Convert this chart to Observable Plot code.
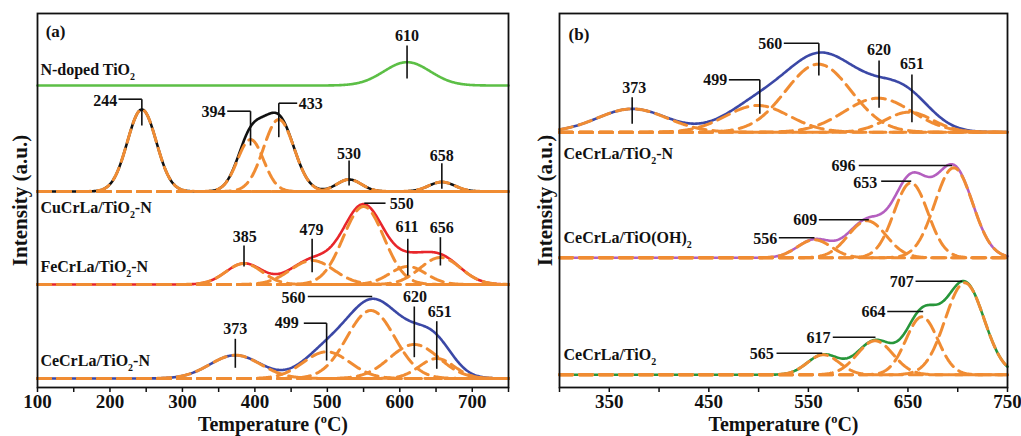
<!DOCTYPE html>
<html><head><meta charset="utf-8">
<script src="https://cdn.jsdelivr.net/npm/d3@7"></script>
<script src="https://cdn.jsdelivr.net/npm/@observablehq/plot@0.6"></script>
<style>
html,body{margin:0;padding:0;background:#fff;}
#wrap{position:relative;width:1021px;height:436px;overflow:hidden;}
#pa{position:absolute;left:0;top:0;}
#pb{position:absolute;left:515px;top:0;}
svg text{font-family:'Liberation Serif','Times New Roman',serif;}
</style></head>
<body><div id="wrap"><div id="pa"></div><div id="pb"></div></div>
<script>
// ---------------- Panel (a) data ----------------
const samplesA = ["N-doped TiO_2", "CuCrLa/TiO_2-N", "FeCrLa/TiO_2-N", "CeCrLa/TiO_2-N"];
const offsetsA = [302, 196, 103, 9];
const centresA = [[610], [244, 394, 433, 530, 658], [385, 479, 550, 611, 656], [373, 499, 560, 620, 651]];
const heightsA = [[23.3], [82, 52, 72, 12, 9.5], [21, 24, 78, 18, 27], [23.3, 26.7, 68, 34, 20]];
const sigmasA  = [[32], [20, 18, 21, 17, 18], [25, 30, 28, 25, 28], [35, 32, 33, 34, 24]];
const fittedA  = [false, true, true, true];
const sampleLabelAtA = [[104, 318], [104, 180], [104, 121], [104, 27]];
const peakLabelsA = [
  ["610", 610, 352, "middle"], ["244", 210, 286.5, "end"], ["394", 359.4, 275.5, "end"],
  ["433", 460.5, 284, "start"], ["530", 530, 233.7, "middle"], ["658", 658, 232, "middle"],
  ["550", 586, 184, "start"], ["385", 386, 150.3, "middle"], ["479", 478, 157.7, "middle"],
  ["611", 610, 160.3, "middle"], ["656", 658, 159.7, "middle"], ["560", 469.8, 90, "end"],
  ["499", 460.6, 64.3, "end"], ["620", 621, 90.3, "middle"], ["651", 655, 75.3, "middle"],
  ["373", 373, 58.7, "middle"]
];
const leadersA = [
  [610, 342, 610, 309],
  [211.8, 288.3, 244, 288.3], [244, 288.3, 244, 262],
  [361.8, 276.3, 394, 276.3], [394, 276.3, 394, 242],
  [433, 284.3, 458.4, 284.3], [433, 284.3, 433, 250.3],
  [530, 227, 530, 202], [658, 224.3, 658, 198.7],
  [551, 184.3, 580.3, 184.3],
  [385, 142, 385, 121], [479, 148.7, 479, 115.3], [611, 148.7, 611, 112], [656, 150.3, 656, 122],
  [473, 91, 561.9, 91],
  [467.5, 64.3, 499, 64.3], [499, 64.3, 499, 27],
  [620, 81, 620, 30.3], [651, 66.3, 651, 18.7], [373, 48.7, 373, 19.7]
];
const coloursA = ["#5cbf46", "#111111", "#e8262b", "#3b48a6"];

// ---------------- Panel (b) data ----------------
const samplesB = ["CeCrLa/TiO_2-N", "CeCrLa/TiO(OH)_2", "CeCrLa/TiO_2"];
const offsetsB = [255.3, 129.7, 12.7];
const centresB = [[373, 499, 560, 620, 651], [556, 609, 653, 696], [565, 617, 664, 707]];
const heightsB = [[23.3, 26.7, 68, 34, 20], [18, 37, 75, 90], [20, 34, 58, 92]];
const sigmasB  = [[35, 32, 33, 34, 24], [17, 19, 17, 19], [16, 18, 16, 19.5]];
const fittedB  = [true, true, true];
const sampleLabelAtB = [[304, 234], [304, 150], [304, 33]];
const peakLabelsB = [
  ["373", 375, 299.7, "middle"], ["499", 468.4, 307.7, "end"], ["560", 523.7, 343.7, "end"],
  ["620", 621, 337.7, "middle"], ["651", 654, 323.7, "middle"], ["696", 597.3, 222, "end"],
  ["653", 619.1, 205, "end"], ["609", 558.8, 167.5, "end"], ["556", 518.7, 149, "end"],
  ["707", 655.9, 105.5, "end"], ["664", 627.5, 75.5, "end"], ["617", 572.2, 49.5, "end"],
  ["565", 515.3, 34, "end"]
];
const leadersB = [
  [373, 290.3, 373, 263.7],
  [470.1, 307.7, 501.2, 307.7], [501.2, 307.7, 501.2, 273.7],
  [525.3, 344.3, 560.5, 344.3], [560.5, 344.3, 560.5, 312],
  [621, 327, 621, 279.7], [654, 313, 654, 265.3],
  [600.6, 222, 694.4, 222], [623.1, 206.3, 653.3, 206.3],
  [560.5, 167.7, 610.7, 167.7], [520.3, 149.7, 556.1, 149.7],
  [657.6, 106.3, 704.5, 106.3], [629.2, 76, 665.3, 76],
  [574.5, 50.3, 617.4, 50.3], [518, 34.3, 563.9, 34.3]
];
const coloursB = ["#3b48a6", "#b45fbf", "#27963a"];

const xTicksA = d3.range(100, 751, 50);
const xTicksB = d3.range(300, 751, 50);

// ---------------- helpers ----------------
const FONT = "'Liberation Serif','Times New Roman',serif";
const ORANGE = "#f08c33";
const gauss = (t, c, h, s) => h * Math.exp(-((t - c) ** 2) / (2 * s * s));

function build(samples, offsets, centres, heights, sigmas, fitted, domain) {
  const Ts = d3.range(domain[0], domain[1] + 0.01, 1);
  const sums = [], comps = [];
  samples.forEach((s, i) => {
    sums.push(Ts.map(T => ({T, v: offsets[i] + d3.sum(centres[i], (c, k) => gauss(T, c, heights[i][k], sigmas[i][k]))})));
    if (fitted[i]) centres[i].forEach((c, k) => {
      Ts.forEach(T => comps.push({T, v: offsets[i] + gauss(T, c, heights[i][k], sigmas[i][k]), id: i + "-" + k}));
    });
  });
  return {sums, comps};
}

function panel(cfg) {
  const {sums, comps} = build(cfg.samples, cfg.offsets, cfg.centres, cfg.heights, cfg.sigmas, cfg.fitted, cfg.domain);
  const txt = {fontFamily: FONT, fontWeight: "bold", fill: "#111"};
  const marks = [];
  sums.forEach((rows, i) => marks.push(Plot.line(rows, {x: "T", y: "v", stroke: cfg.colours[i], strokeWidth: 2.6})));
  marks.push(Plot.line(comps, {x: "T", y: "v", z: "id", stroke: ORANGE, strokeWidth: 3, strokeDasharray: "13,7"}));
  marks.push(Plot.link(cfg.leaders, {x1: d => d[0], y1: d => d[1], x2: d => d[2], y2: d => d[3], stroke: "#111", strokeWidth: 1.6}));
  for (const a of ["start", "middle", "end"]) {
    marks.push(Plot.text(cfg.peakLabels.filter(d => d[3] === a), {x: d => d[1], y: d => d[2], text: d => d[0], textAnchor: a, lineAnchor: "middle", fontSize: 16, ...txt}));
  }
  marks.push(Plot.text(cfg.samples.map((s, i) => ({s, T: cfg.labelAt[i][0], v: cfg.labelAt[i][1]})),
    {x: "T", y: "v", text: "s", textAnchor: "start", lineAnchor: "middle", fontSize: 16, ...txt}));
  marks.push(Plot.text([cfg.tag], {x: cfg.tagAt[0], y: cfg.tagAt[1], text: d => d, lineAnchor: "middle", fontSize: 17, ...txt}));
  marks.push(Plot.frame({stroke: "#111", strokeWidth: 1.8}));
  marks.push(Plot.axisX({ticks: cfg.ticks, tickFormat: cfg.tickFormat, tickSize: 5, tickPadding: 2, fontSize: 19, fontWeight: "bold", fontFamily: FONT, strokeWidth: 1.5}));
  marks.push(Plot.text(["Temperature (^oC)"], {frameAnchor: "bottom", dy: 37, text: d => d, textAnchor: "middle", lineAnchor: "middle", fontSize: 20, ...txt}));
  marks.push(Plot.text(["Intensity (a.u.)"], {frameAnchor: "left", dx: cfg.ylabelDx, rotate: -90, text: d => d, textAnchor: "middle", lineAnchor: "middle", fontSize: 21, ...txt}));
  return Plot.plot({
    width: cfg.width, height: 436,
    marginLeft: cfg.marginLeft, marginRight: cfg.marginRight, marginTop: 13, marginBottom: 49,
    x: {domain: cfg.domain, label: null},
    y: {domain: [0, 374], axis: null},
    style: {fontFamily: FONT, fontWeight: "bold", background: "white", overflow: "visible", color: "#111"},
    marks
  });
}

function richify(svg) {
  const NS = "http://www.w3.org/2000/svg";
  svg.querySelectorAll("text").forEach(el => {
    const s = el.textContent;
    if (!/[_^]/.test(s)) return;
    const fs = parseFloat(getComputedStyle(el).fontSize) || 16;
    while (el.firstChild) el.removeChild(el.firstChild);
    let shift = 0, buf = "", i = 0;
    const flush = () => {
      if (!buf) return;
      const t = document.createElementNS(NS, "tspan");
      if (shift) { t.setAttribute("dy", -shift); shift = 0; }
      t.textContent = buf; el.appendChild(t); buf = "";
    };
    while (i < s.length) {
      const ch = s[i];
      if ((ch === "_" || ch === "^") && i + 1 < s.length) {
        flush();
        const t = document.createElementNS(NS, "tspan");
        const d = ch === "_" ? 0.32 * fs : -0.42 * fs;
        t.setAttribute("dy", d - shift); shift = d;
        t.setAttribute("font-size", (0.62 * fs) + "px");
        t.textContent = s[i + 1]; el.appendChild(t); i += 2;
      } else { buf += ch; i++; }
    }
    flush();
  });
}

const svgA = panel({
  samples: samplesA, offsets: offsetsA, centres: centresA, heights: heightsA, sigmas: sigmasA, fitted: fittedA,
  colours: coloursA, leaders: leadersA, peakLabels: peakLabelsA, labelAt: sampleLabelAtA,
  domain: [100, 750], ticks: xTicksA, tickFormat: d => (d % 100 === 0 && d < 750) ? String(d) : "",
  tag: "(a)", tagAt: [125, 356], width: 515, marginLeft: 37, marginRight: 7, ylabelDx: -17
});
const svgB = panel({
  samples: samplesB, offsets: offsetsB, centres: centresB, heights: heightsB, sigmas: sigmasB, fitted: fittedB,
  colours: coloursB, leaders: leadersB, peakLabels: peakLabelsB, labelAt: sampleLabelAtB,
  domain: [300, 750], ticks: xTicksB, tickFormat: d => (d % 100 === 50) ? String(d) : "",
  tag: "(b)", tagAt: [319.6, 353], width: 506, marginLeft: 44, marginRight: 14, ylabelDx: -14.5
});
document.getElementById("pa").append(svgA);
document.getElementById("pb").append(svgB);
richify(svgA);
richify(svgB);
</script>
</body></html>
